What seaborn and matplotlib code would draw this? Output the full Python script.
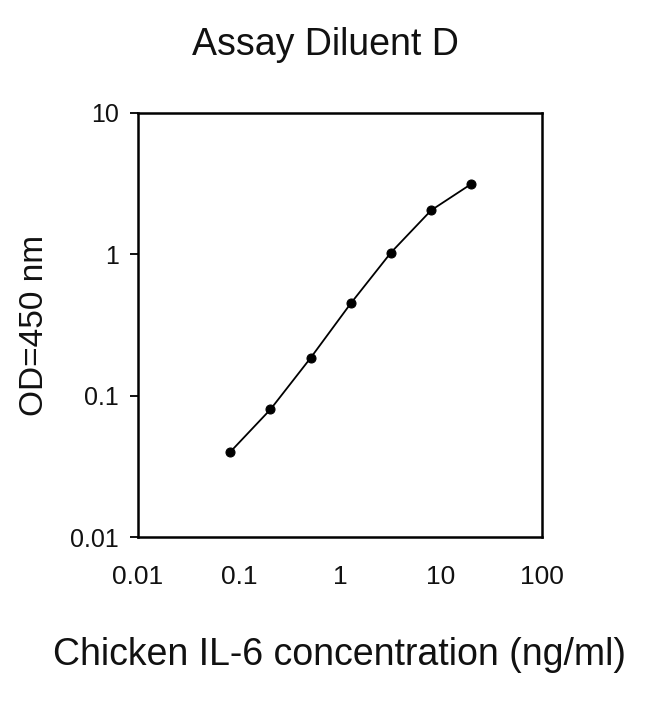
import seaborn as sns
import matplotlib.pyplot as plt
import pandas as pd

# standard curve data
conc = [0.082, 0.205, 0.512, 1.28, 3.2, 8, 20]
od = [0.04, 0.08, 0.185, 0.45, 1.03, 2.05, 3.15]
tick_vals_x = [0.01, 0.1, 1, 10, 100]
tick_labels_x = ["0.01", "0.1", "1", "10", "100"]
tick_vals_y = [0.01, 0.1, 1, 10]
tick_labels_y = ["0.01", "0.1", "1", "10"]

sns.set_style("white")
plt.rcParams['font.family'] = ['Liberation Sans', 'DejaVu Sans']
plt.rcParams['text.color'] = '#111111'
plt.rcParams['axes.labelcolor'] = '#111111'
plt.rcParams['xtick.color'] = '#111111'
plt.rcParams['ytick.color'] = '#111111'

data = pd.DataFrame({'conc': conc, 'od': od})

fig = plt.figure(figsize=(6.5, 7.08), dpi=100)
ax = fig.add_axes([0.2123, 0.2415, 0.6215, 0.5989])

sns.lineplot(x='conc', y='od', data=data, ax=ax, color='black',
             linewidth=1.3, marker='o', markersize=6.5,
             markeredgecolor='black', estimator=None, sort=False)

ax.set_xscale('log')
ax.set_yscale('log')
ax.set_xlim(0.01, 100)
ax.set_ylim(0.01, 10)
ax.set_xticks(tick_vals_x)
ax.set_xticklabels(tick_labels_x)
ax.set_yticks(tick_vals_y)
ax.set_yticklabels(tick_labels_y)
ax.minorticks_off()
ax.tick_params(axis='x', direction='in', length=5, width=1.4, labelsize=19, pad=20)
ax.tick_params(axis='y', direction='out', length=6, width=1.4, labelsize=18, pad=8, left=True)

for s in ax.spines.values():
    s.set_visible(True)
    s.set_color('black')
    s.set_linewidth(1.8)

# labels
ax.set_xlabel("Chicken IL-6 concentration (ng/ml)", fontsize=27, va='center')
ax.xaxis.set_label_coords(0.5, -0.278)
ax.set_ylabel("OD=450 nm", fontsize=24, va='center')
ax.yaxis.set_label_coords(-0.255, 0.5)
fig.text(0.5, 1 - 45 / 708, "Assay Diluent D", ha='center', va='center', fontsize=27)

plt.savefig('out.png', dpi=100)
